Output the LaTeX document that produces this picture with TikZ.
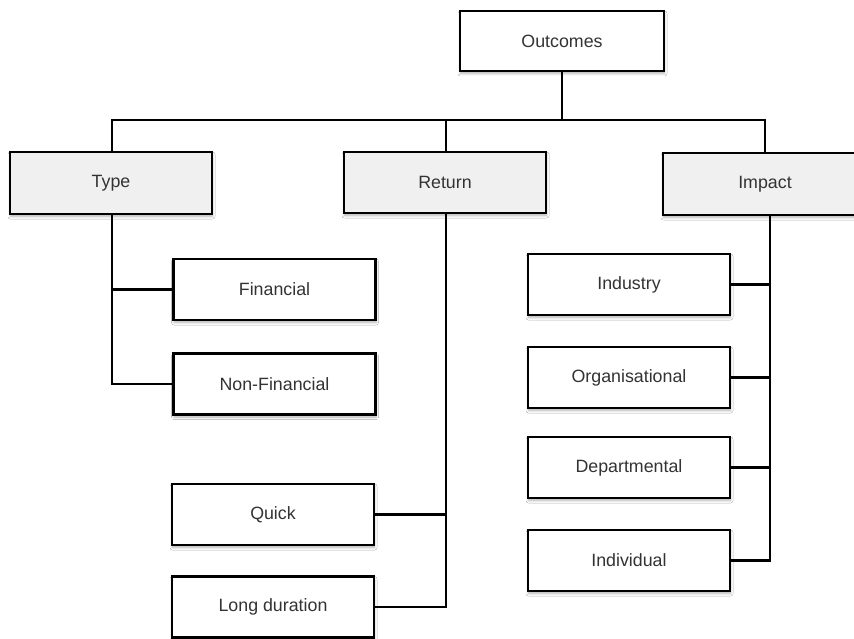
\documentclass[tikz,border=0pt]{standalone}
\usepackage{fontspec}
\setmainfont{Liberation Sans}
\usetikzlibrary{shadows.blur,backgrounds}
\definecolor{headfill}{HTML}{F0F0F0}
\definecolor{labeltext}{HTML}{333333}
\tikzset{
  box/.style={draw=black, line width=2.5pt, fill=white, minimum width=202pt,
    minimum height=61pt, inner sep=0pt, text=labeltext,
    font=\fontsize{17.8}{20}\selectfont,
    blur shadow={shadow xshift=0.5pt, shadow yshift=-2.5pt,
      shadow blur radius=2.5pt, shadow blur steps=6, shadow opacity=30}},
  headbox/.style={box, fill=headfill},
  link/.style={draw=black, line width=2.7pt}
}
\begin{document}
\begin{tikzpicture}[x=1pt, y=-1pt]
\useasboundingbox (0,0) rectangle (854,639);
\clip (0,0) rectangle (854,639);

% top of the tree
\node[box, minimum width=204pt, minimum height=60pt] (outcomes) at (562,41) {Outcomes};

% second level
\node[headbox, minimum height=62pt] (type)   at (111,183)   {Type};
\node[headbox] (return) at (445,182.5) {Return};
\node[headbox, minimum width=204pt, minimum height=62pt] (impact) at (765,184) {Impact};

% leaves under Type
\node[box] (fin)    at (274.5,289.5) {Financial};
\node[box] (nonfin) at (274.5,384)   {Non-Financial};

% leaves under Return
\node[box] (quick) at (273,514.5) {Quick};
\node[box] (long)  at (273,607)   {Long duration};

% leaves under Impact
\node[box] (industry) at (629,284.5) {Industry};
\node[box] (org)      at (629,377.5) {Organisational};
\node[box] (dept)     at (629,467.5) {Departmental};
\node[box] (indiv)    at (629,560.5) {Individual};

\begin{scope}[on background layer]
\fill[white] (0,0) rectangle (854,639);

% bus from the root to the three branches
\coordinate (bus) at (562,120);
\draw[link] (outcomes.south) -- (bus);
\draw[link] ([xshift=1pt]type.north) |- (bus) -| (impact.north);
\draw[link] ([xshift=1pt]return.north |- bus) -- ([xshift=1pt]return.north);

% Type branch
\draw[link] ([xshift=1pt]type.south) |- (nonfin.west);
\draw[link] ([xshift=1pt]type.south |- fin.west) -- (fin.west);

% Return branch
\draw[link] ([xshift=1pt]return.south) |- (long.east);
\draw[link] ([xshift=1pt]return.south |- quick.east) -- (quick.east);

% Impact branch
\draw[link] ([xshift=5pt]impact.south) |- (indiv.east);
\draw[link] ([xshift=5pt]impact.south |- industry.east) -- (industry.east);
\draw[link] ([xshift=5pt]impact.south |- org.east) -- (org.east);
\draw[link] ([xshift=5pt]impact.south |- dept.east) -- (dept.east);
\end{scope}
\end{tikzpicture}
\end{document}
